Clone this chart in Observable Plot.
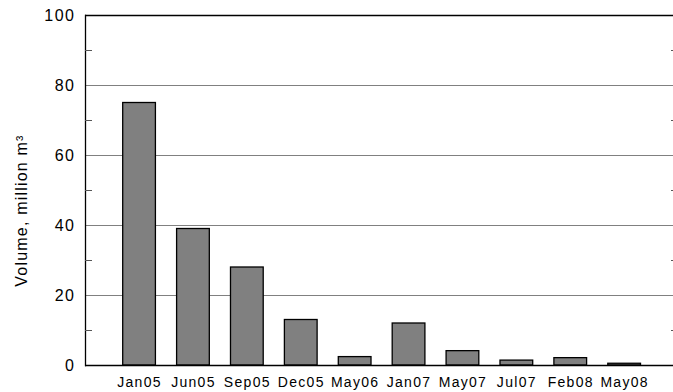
<!DOCTYPE html>
<html>
<head>
<meta charset="utf-8">
<script src="https://cdn.jsdelivr.net/npm/d3@7"></script>
<script src="https://cdn.jsdelivr.net/npm/@observablehq/plot@0.6"></script>
<style>
  html, body { margin: 0; padding: 0; background: #fff; }
  svg { display: block; }
  g[aria-label="x-axis tick label"] text { letter-spacing: 1.3px; }
  g[aria-label="y-axis tick label"] text { letter-spacing: 1.5px; }
  g.ylabel text { letter-spacing: 1.2px; }
</style>
</head>
<body>
<div id="chart"></div>
<script>
const months = ["Jan05", "Jun05", "Sep05", "Dec05", "May06", "Jan07", "May07", "Jul07", "Feb08", "May08"];
const volumes = [75, 39, 28, 13, 2.4, 12, 4.1, 1.4, 2.1, 0.5];
const yTicks = [0, 20, 40, 60, 80, 100];
const yGrid = [20, 40, 60, 80];
const yMinor = [10, 30, 50, 70, 90];
const yLabel = "Volume, million m\u00B3";

const data = months.map((m, i) => ({month: m, volume: volumes[i]}));

const chart = Plot.plot({
  width: 673,
  height: 392,
  marginTop: 15,
  marginBottom: 27,
  marginLeft: 85,
  marginRight: 0,
  style: {fontFamily: "'Liberation Sans', Arial, sans-serif", color: "black", background: "white"},
  x: {domain: months, range: [122.7, 640.5], paddingInner: 0.393, paddingOuter: 0, round: false, label: null},
  y: {domain: [0, 100], label: null},
  marks: [
    Plot.ruleY(yGrid, {stroke: "#808080", strokeWidth: 1}),
    Plot.barY(data, {x: "month", y: "volume", fill: "#808080", stroke: "#000", strokeWidth: 1.3}),
    Plot.ruleY([0, 100], {stroke: "#000", strokeWidth: 1.3}),
    Plot.frame({anchor: "left", stroke: "#000", strokeWidth: 1.3}),
    Plot.axisY({ticks: yTicks, tickSize: 0, tickPadding: 10, fontSize: 16, label: null}),
    Plot.axisY({ticks: yMinor, tickSize: -7, tickFormat: () => "", label: null, stroke: "#555"}),
    Plot.axisY({anchor: "right", ticks: yMinor, tickSize: -3, tickFormat: () => "", label: null, stroke: "#555"}),
    Plot.axisX({tickSize: 0, tickPadding: 12, fontSize: 14, label: null}),
    Plot.text([yLabel], {frameAnchor: "left", textAnchor: "middle", rotate: -90, dx: -64, dy: 20, fontSize: 16, fill: "#000", className: "ylabel"})
  ]
});
document.getElementById("chart").appendChild(chart);
</script>
</body>
</html>
